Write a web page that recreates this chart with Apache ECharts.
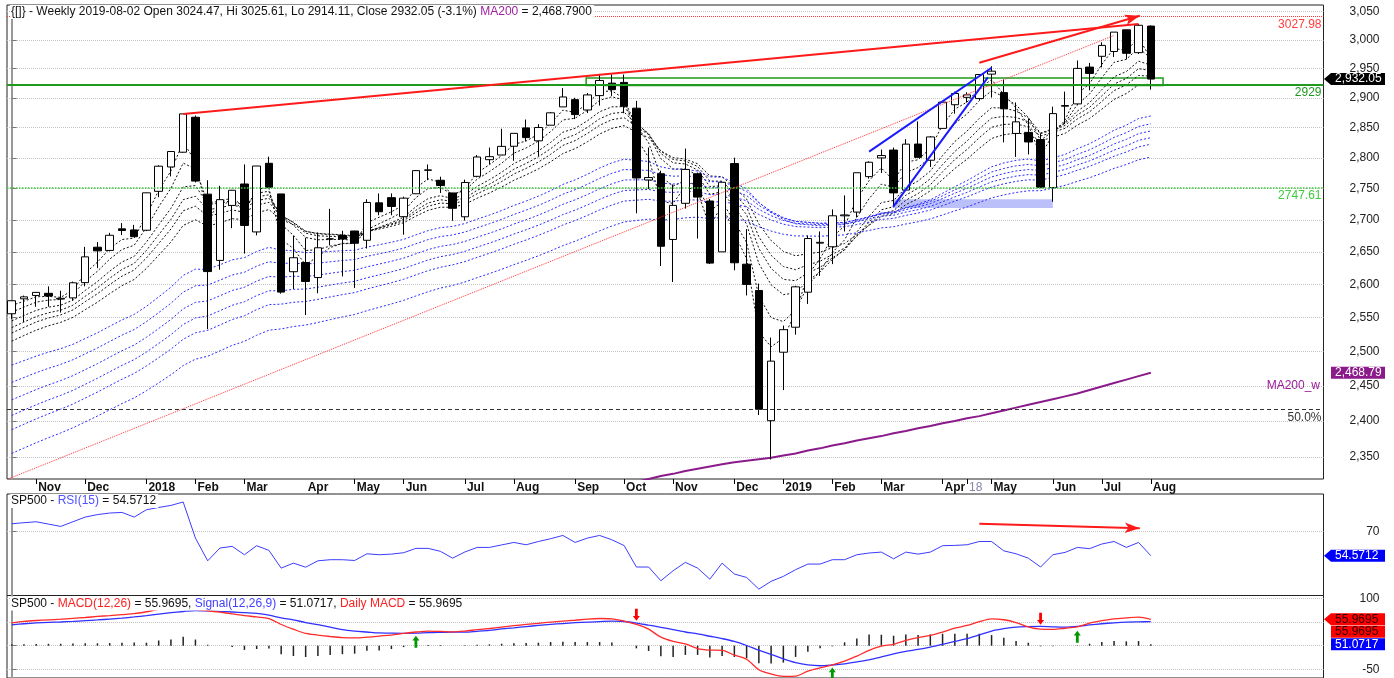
<!DOCTYPE html>
<html>
<head>
<meta charset="utf-8">
<title>SP500 weekly</title>
<script src="https://cdn.jsdelivr.net/npm/echarts@6.0.0/dist/echarts.min.js"></script>
<style>
  html, body { margin: 0; padding: 0; background: #ffffff; }
  #chart { width: 1394px; height: 678px; }
</style>
</head>
<body>
<div id="chart"></div>
<script>
// weekly bars (Friday dates)
const weeks = [
  '2017-10-20','2017-10-27','2017-11-03','2017-11-10','2017-11-17','2017-11-24','2017-12-01','2017-12-08','2017-12-15','2017-12-22','2017-12-29',
  '2018-01-05','2018-01-12','2018-01-19','2018-01-26','2018-02-02','2018-02-09','2018-02-16','2018-02-23','2018-03-02','2018-03-09','2018-03-16','2018-03-23','2018-03-29',
  '2018-04-06','2018-04-13','2018-04-20','2018-04-27','2018-05-04','2018-05-11','2018-05-18','2018-05-25','2018-06-01','2018-06-08','2018-06-15','2018-06-22','2018-06-29',
  '2018-07-06','2018-07-13','2018-07-20','2018-07-27','2018-08-03','2018-08-10','2018-08-17','2018-08-24','2018-08-31','2018-09-07','2018-09-14','2018-09-21','2018-09-28',
  '2018-10-05','2018-10-12','2018-10-19','2018-10-26','2018-11-02','2018-11-09','2018-11-16','2018-11-23','2018-11-30','2018-12-07','2018-12-14','2018-12-21','2018-12-28',
  '2019-01-04','2019-01-11','2019-01-18','2019-01-25','2019-02-01','2019-02-08','2019-02-15','2019-02-22','2019-03-01','2019-03-08','2019-03-15','2019-03-22','2019-03-29',
  '2019-04-05','2019-04-12','2019-04-18','2019-04-26','2019-05-03','2019-05-10','2019-05-17','2019-05-24','2019-05-31','2019-06-07','2019-06-14','2019-06-21','2019-06-28',
  '2019-07-05','2019-07-12','2019-07-19','2019-07-26','2019-08-02'
];
const opens = [
  2555.66, 2578.08, 2583.21, 2586.43, 2577.75, 2579.49, 2602.66, 2657.19, 2652.19, 2685.92, 2684.22,
  2683.73, 2745.55, 2784.99, 2809.16, 2867.23, 2741.06, 2636.75, 2722.99, 2757.37, 2681.06, 2790.97, 2741.38, 2619.35,
  2633.45, 2610.39, 2670.10, 2675.40, 2682.51, 2668.00, 2727.13, 2735.39, 2705.11, 2741.67, 2780.18, 2763.39, 2742.94,
  2704.95, 2769.76, 2796.93, 2804.55, 2819.00, 2849.46, 2827.95, 2853.93, 2884.69, 2896.96, 2879.44, 2903.83, 2925.08,
  2926.29, 2882.51, 2763.83, 2773.94, 2669.27, 2726.37, 2773.93, 2730.05, 2649.97, 2790.50, 2630.86, 2590.75, 2400.56,
  2498.77, 2535.61, 2588.11, 2663.51, 2657.88, 2706.49, 2712.40, 2769.28, 2799.78, 2812.67, 2747.61, 2822.61, 2796.01,
  2848.63, 2888.32, 2900.86, 2898.78, 2940.58, 2908.89, 2840.19, 2841.94, 2830.03, 2751.53, 2885.83, 2889.75, 2952.71,
  2971.41, 2979.77, 3017.80, 2977.77, 3024.47
];
const highs = [
  2575.44, 2582.98, 2588.40, 2597.02, 2590.26, 2604.21, 2657.74, 2665.19, 2679.63, 2694.97, 2692.12,
  2743.45, 2787.85, 2810.33, 2872.87, 2870.05, 2763.39, 2754.42, 2747.76, 2789.15, 2786.57, 2801.90, 2741.38, 2674.78,
  2672.08, 2680.26, 2717.49, 2682.86, 2682.87, 2732.86, 2742.10, 2742.24, 2736.93, 2779.90, 2789.06, 2769.18, 2743.15,
  2764.41, 2804.53, 2816.76, 2848.03, 2840.38, 2863.43, 2855.63, 2876.16, 2916.50, 2900.18, 2908.30, 2940.91, 2939.86,
  2939.86, 2894.83, 2816.94, 2778.94, 2756.55, 2815.15, 2775.99, 2733.16, 2760.88, 2800.18, 2685.44, 2601.13, 2520.27,
  2538.07, 2597.82, 2675.47, 2681.83, 2716.66, 2738.98, 2775.66, 2794.20, 2813.49, 2816.88, 2830.73, 2860.31, 2836.03,
  2893.42, 2910.53, 2909.51, 2939.88, 2954.13, 2931.30, 2892.15, 2864.36, 2840.51, 2884.99, 2910.61, 2964.15, 2959.88,
  2995.84, 3013.92, 3017.80, 3027.98, 3025.61
];
const lows = [
  2547.92, 2543.35, 2566.17, 2566.33, 2557.45, 2575.54, 2597.02, 2624.75, 2650.63, 2676.11, 2673.61,
  2682.36, 2736.06, 2769.64, 2808.12, 2759.97, 2532.69, 2622.45, 2687.01, 2647.32, 2675.75, 2749.97, 2585.89, 2593.06,
  2553.80, 2586.52, 2660.10, 2612.16, 2594.62, 2655.20, 2707.38, 2707.38, 2676.81, 2741.67, 2763.59, 2742.94, 2698.67,
  2698.95, 2768.11, 2789.24, 2804.55, 2795.14, 2827.23, 2802.49, 2853.93, 2884.69, 2864.12, 2874.27, 2886.97, 2903.28,
  2874.02, 2710.51, 2749.33, 2628.16, 2603.54, 2717.94, 2670.75, 2631.09, 2649.97, 2621.53, 2583.23, 2408.55, 2346.58,
  2443.96, 2524.56, 2570.41, 2612.86, 2631.05, 2681.83, 2703.79, 2766.06, 2775.13, 2722.27, 2746.17, 2800.47, 2785.02,
  2848.63, 2873.34, 2891.90, 2896.35, 2900.50, 2825.39, 2801.43, 2805.49, 2750.52, 2728.81, 2855.94, 2887.30, 2912.84,
  2952.22, 2970.26, 2966.39, 2975.50, 2914.11
];
const closes = [
  2575.21, 2581.07, 2587.84, 2582.30, 2578.85, 2602.42, 2642.22, 2651.50, 2675.81, 2683.34, 2673.61,
  2743.15, 2786.24, 2810.30, 2872.87, 2762.13, 2619.55, 2732.22, 2747.30, 2691.25, 2786.57, 2752.01, 2588.26, 2640.87,
  2604.47, 2656.30, 2670.14, 2669.91, 2663.42, 2727.72, 2712.97, 2721.33, 2734.62, 2779.03, 2779.66, 2754.88, 2718.37,
  2759.82, 2801.31, 2801.83, 2818.82, 2840.35, 2833.28, 2850.13, 2874.69, 2901.52, 2871.68, 2904.98, 2929.67, 2913.98,
  2885.57, 2767.13, 2767.78, 2658.69, 2723.06, 2781.01, 2736.27, 2632.56, 2760.17, 2633.08, 2599.95, 2416.62, 2485.74,
  2531.94, 2596.26, 2670.71, 2664.76, 2706.53, 2707.88, 2775.60, 2792.67, 2803.69, 2743.07, 2822.48, 2800.71, 2834.40,
  2892.74, 2907.41, 2905.03, 2939.88, 2945.64, 2881.40, 2859.53, 2826.06, 2752.06, 2873.34, 2886.98, 2950.46, 2941.76,
  2990.41, 3013.77, 2976.61, 3025.86, 2932.05
];

// 200 week average, starts at week 51 (below the chart before that)
const ma200Start = 51;
const ma200 = [
  2316, 2320, 2324, 2327, 2331, 2334, 2337, 2340, 2343, 2345, 2347, 2349, 2352, 2355, 2359, 2362, 2366, 2369, 2373, 2376,
  2379, 2383, 2386, 2390, 2393, 2397, 2400, 2404, 2407, 2411, 2415, 2419, 2423, 2427, 2431, 2435, 2439, 2444, 2449, 2454,
  2459, 2464, 2468.79
];

// guppy averages: periods and the value each line starts at on the first bar
const gmmaShortPeriods = [3, 5, 8, 10, 12, 15];
const gmmaShortStart = [2568, 2558, 2545, 2535, 2527, 2515];
const gmmaLongPeriods = [30, 35, 40, 45, 50, 60];
const gmmaLongStart = [2480, 2455, 2430, 2408, 2388, 2355];

const rsi = [
  75.1, 75.8, 76.4, 74.9, 73.4, 76.4, 79.4, 81.0, 82.0, 82.4, 79.4,
  84.1, 85.6, 86.9, 89.1, 65.9, 51.3, 59.5, 60.6, 55.2, 61.0, 58.0, 46.6, 49.8,
  47.2, 51.3, 52.0, 52.0, 51.5, 55.8, 55.2, 55.6, 56.5, 59.3, 59.3, 57.4, 53.0,
  57.0, 59.9, 59.9, 61.5, 63.1, 61.6, 63.7, 65.5, 67.6, 63.1, 65.9, 67.6, 64.8,
  61.1, 47.3, 47.3, 38.5, 44.9, 50.3, 46.6, 39.5, 49.8, 42.8, 40.6, 33.1, 38.1,
  41.3, 45.6, 49.2, 49.2, 52.0, 52.0, 55.2, 56.3, 56.9, 52.6, 56.9, 55.6, 56.9,
  61.0, 61.2, 61.6, 63.7, 63.7, 57.7, 55.8, 53.0, 47.3, 55.2, 56.7, 59.9, 59.1,
  62.1, 63.7, 59.9, 63.1, 54.5712
];
const macd = [
  48.5, 51.5, 53.4, 54.8, 56.2, 58.0, 59.8, 62.0, 64.0, 66.0, 68.0,
  72.0, 77.0, 79.5, 79.5, 77.0, 74.0, 71.0, 67.6, 64.0, 61.0, 57.5, 45.0, 35.0,
  26.0, 22.5, 19.5, 17.0, 16.5, 18.0, 20.4, 22.5, 26.0, 29.0, 31.0, 30.3, 29.3,
  31.0, 34.0, 36.5, 39.5, 42.5, 45.0, 47.5, 50.0, 52.0, 54.0, 56.5, 57.7, 57.0,
  52.0, 45.0, 35.0, 18.0, 9.0, 4.0, -6.0, -9.3, -10.0, -20.0, -28.8, -51.0, -60.0,
  -65.0, -64.5, -54.0, -47.0, -41.0, -33.0, -22.0, -10.0, -1.0, 2.8, 11.0, 17.0, 22.0,
  29.0, 37.0, 43.0, 51.0, 57.0, 55.0, 49.0, 40.0, 35.0, 34.5, 37.0, 40.0, 48.0,
  53.0, 57.0, 59.0, 60.5, 55.9695
];
const signal = [
  44.3, 46.5, 48.2, 49.4, 50.3, 51.5, 53.0, 54.6, 56.5, 58.5, 61.0,
  63.8, 67.0, 70.0, 72.5, 74.5, 73.7, 72.6, 71.5, 70.0, 68.5, 65.0, 59.0, 55.0,
  49.0, 44.5, 39.5, 34.0, 31.0, 29.0, 27.0, 26.5, 26.2, 26.5, 27.8, 28.4, 28.8,
  28.8, 30.5, 32.5, 35.5, 38.0, 40.5, 43.0, 45.2, 47.0, 48.8, 50.2, 51.0, 52.0,
  51.3, 48.0, 43.5, 39.0, 34.0, 29.0, 25.0, 20.0, 15.0, 9.0, 0.4, -9.6, -18.3,
  -28.0, -36.0, -40.9, -42.6, -41.0, -38.5, -34.5, -30.0, -24.0, -17.5, -12.0, -8.0, -3.0,
  3.0, 9.0, 15.0, 23.0, 31.0, 36.0, 39.5, 40.5, 40.8, 40.0, 39.5, 41.0, 44.0,
  46.5, 48.5, 50.0, 50.6, 51.0717
];
const macdHist = [
  3, 3, 3.5, 4, 4, 4.5, 5, 5, 5.5, 6, 7,
  6.3, 11, 13, 19, 13, 2, 0, -3, -9, -7, -6, -18, -22,
  -24, -22, -20, -18, -17, -11, -10, -7, -3, 0, 1.5, 1.5, 0,
  0.7, 2.1, 2.8, 4.2, 4.9, 5.6, 6.3, 7.7, 8.4, 7.7, 7.7, 7.7, 7.0,
  0, -5.6, -11.2, -22.5, -23.9, -19.7, -19.7, -25.3, -21.8, -23.9, -26.7, -37.3, -38,
  -35.9, -23.9, -12.7, -5.6, -1.4, 7, 15.5, 23.9, 23.2, 21.1, 23.9, 22.5, 23.9,
  25.3, 25.3, 25.3, 25.3, 22.5, 16.9, 9.8, 6.3, -1.4, -1.4, 0, 0.7, 4.2,
  7.7, 9.8, 9.1, 9.8, 2.8
];

// axis labels
const monthTickIdx = [2, 6, 11, 15, 19, 24, 28, 32, 37, 41, 46, 50, 54, 59, 63, 67, 71, 76, 78, 80, 85, 89, 93];
const monthTickText = ['Nov', 'Dec', '2018', 'Feb', 'Mar', 'Apr', 'May', 'Jun', 'Jul', 'Aug', 'Sep', 'Oct', 'Nov',
  'Dec', '2019', 'Feb', 'Mar', 'Apr', '18', 'May', 'Jun', 'Jul', 'Aug'];
const priceTicks = [2350, 2400, 2450, 2500, 2550, 2600, 2650, 2700, 2750, 2800, 2850, 2900, 2950, 3000, 3050];
const rsiTicks = [70];
const macdTicks = [100, 50, 0, -50];
const macdLabels = [100, -50];

// price levels and drawn lines [week, price]
const levelHigh = 3027.98;
const levelSupport = 2929;
const levelGap = 2747.61;
const levelHalf = 2418.6;
const redTrend = [[14, 2872.87], [92, 3027.98]];
const redArrow = [[79, 2960.2], [92.1, 3042.9]];
const redDotted = [[-0.3, 2320], [90, 3008]];
const blueUpper = [[70, 2810], [80, 2951.6]];
const blueLower = [[71.96, 2720.7], [79.7, 2935]];
const greenBox = [[46.9, 2934], [94, 2921]];
const blueBox = [[71.96, 2733], [85, 2719]];
const rsiArrow = [[79, 75.1], [92.1, 72.3]];
const macdDown = [[51, 52.7], [84, 44.3]];
const macdUp = [[33, 21.1], [67, -46.4], [87, 31.6]];

const FONT = '"Liberation Sans", Arial, sans-serif';
const X_MIN = -0.384, X_MAX = 107.1;
const lg = v => Math.log(v);

const ema = (period, start) => {
  const k = 2 / (period + 1);
  let prev = start;
  return closes.map((c, i) => {
    prev = i === 0 ? start : prev + k * (c - prev);
    return [i, lg(prev)];
  });
};

const gmma = (periods, starts, color) => periods.map((p, n) => ({
  type: 'line', name: 'EMA' + p, xAxisIndex: 0, yAxisIndex: 0,
  data: ema(p, starts[n]), symbol: 'none', silent: true, z: 2,
  lineStyle: { color: color, width: 1, type: [2, 2] }
}));

const candleData = weeks.map((w, i) => [i, lg(opens[i]), lg(closes[i]), lg(lows[i]), lg(highs[i])]);

const hLine = (value, color, type, width, text) => ({
  yAxis: lg(value),
  lineStyle: { color: color, type: type, width: width },
  label: { show: !!text, formatter: text, position: 'insideEndBottom', color: color, fontSize: 12, fontFamily: FONT, distance: 2 }
});
const segLine = (pts, color, type, width, arrow) => [
  { coord: [pts[0][0], lg(pts[0][1])], symbol: 'none', lineStyle: { color: color, type: type, width: width } },
  { coord: [pts[1][0], lg(pts[1][1])], symbol: arrow ? 'arrow' : 'none', symbolSize: [8, 15] }
];

const xAxisFor = (gridIndex, labels) => ({
  type: 'value', gridIndex: gridIndex, min: X_MIN, max: X_MAX,
  splitLine: { show: false },
  axisLine: { show: false },
  axisTick: labels
    ? { show: true, customValues: monthTickIdx.filter(i => i !== 24), length: 5, lineStyle: { color: '#000' } }
    : { show: false },
  axisLabel: labels ? {
    show: true, customValues: monthTickIdx, align: 'left', margin: 3, padding: [0, 0, 0, 2],
    fontWeight: 'bold', fontSize: 12, fontFamily: FONT, color: '#111',
    formatter: v => {
      const t = monthTickText[monthTickIdx.indexOf(Math.round(v))];
      return t === '18' ? '{d|18}' : t;
    },
    rich: { d: { color: '#8484ac', fontWeight: 'normal', fontSize: 12, fontFamily: FONT } }
  } : { show: false }
});

const yAxisFor = (gridIndex, min, max, ticks, labels, fmt) => ({
  type: 'value', gridIndex: gridIndex, position: 'right', min: min, max: max,
  axisLine: { show: true, lineStyle: { color: '#999', width: 2 } },
  axisTick: { show: true, customValues: ticks, length: 5, lineStyle: { color: '#777' } },
  axisLabel: {
    customValues: labels, formatter: fmt, align: 'right', margin: 56,
    color: '#222', fontSize: 12, fontFamily: FONT
  },
  splitLine: { show: true, lineStyle: { color: '#c4c4c4', type: 'dotted', width: 1 } }
});

const chart = echarts.init(document.getElementById('chart'));

const option = {
  animation: false,
  backgroundColor: '#fff',
  textStyle: { fontFamily: FONT },
  grid: [
    { left: 7, right: 70.5, top: 5, height: 474, show: true, borderColor: '#222', borderWidth: 1 },
    { left: 7, right: 70.5, top: 494, height: 101.5, show: true, borderColor: '#222', borderWidth: 1 },
    { left: 7, right: 70.5, top: 595.5, height: 83, show: true, borderColor: '#222', borderWidth: 1 }
  ],
  xAxis: [xAxisFor(0, true), xAxisFor(1, false), xAxisFor(2, false)],
  yAxis: [
    yAxisFor(0, lg(2320), lg(3062), priceTicks.map(lg), priceTicks.map(lg),
      v => Math.round(Math.exp(v)).toLocaleString('en-US')),
    yAxisFor(1, 29.0, 94.24, rsiTicks, rsiTicks, v => String(Math.round(v))),
    yAxisFor(2, -68.6, 106.5, macdTicks, macdLabels, v => String(Math.round(v)))
  ],
  series: [
    ...gmma(gmmaShortPeriods, gmmaShortStart, '#111'),
    ...gmma(gmmaLongPeriods, gmmaLongStart, '#2b2bff'),
    {
      type: 'line', name: 'MA200_w', xAxisIndex: 0, yAxisIndex: 0, symbol: 'none', silent: true, z: 3,
      data: ma200.map((v, k) => [ma200Start + k, lg(v)]),
      lineStyle: { color: '#8b1a8b', width: 2 }
    },
    {
      type: 'candlestick', name: 'SP500', xAxisIndex: 0, yAxisIndex: 0, z: 4,
      data: candleData, encode: { x: 0, y: [1, 2, 3, 4] }, barWidth: 8,
      itemStyle: { color: '#fff', color0: '#000', borderColor: '#000', borderColor0: '#000', borderWidth: 1 },
      markLine: {
        silent: true, symbol: ['none', 'none'], animation: false,
        data: [
          hLine(levelHigh, '#ff3b3b', 'dotted', 1, '3027.98'),
          hLine(levelSupport, '#1f9a1f', 'solid', 2, '2929'),
          hLine(levelGap, '#3ccc3c', 'dotted', 1.5, '2747.61'),
          hLine(levelHalf, '#333', [4, 3], 1, '50.0%'),
          segLine(redDotted, '#ff3030', 'dotted', 1, false),
          segLine(redTrend, '#ff1a1a', 'solid', 2, false),
          segLine(redArrow, '#ff1a1a', 'solid', 2, true),
          segLine(blueUpper, '#1a1aff', 'solid', 2, false),
          segLine(blueLower, '#1a1aff', 'solid', 2, false)
        ]
      },
      markArea: {
        silent: true,
        data: [
          [
            { coord: [greenBox[0][0], lg(greenBox[0][1])], itemStyle: { color: 'rgba(0,0,0,0)', borderColor: '#1f9a1f', borderWidth: 1.5 } },
            { coord: [greenBox[1][0], lg(greenBox[1][1])] }
          ],
          [
            { coord: [blueBox[0][0], lg(blueBox[0][1])], itemStyle: { color: 'rgba(105,115,245,0.45)' } },
            { coord: [blueBox[1][0], lg(blueBox[1][1])] }
          ]
        ]
      }
    },
    {
      type: 'line', name: 'RSI(15)', xAxisIndex: 1, yAxisIndex: 1, symbol: 'none', silent: true,
      data: rsi.map((v, i) => [i, v]),
      lineStyle: { color: '#3c3cff', width: 1 },
      markLine: {
        silent: true, symbol: ['none', 'none'],
        data: [[
          { coord: rsiArrow[0], symbol: 'none', lineStyle: { color: '#ff1a1a', type: 'solid', width: 2 } },
          { coord: rsiArrow[1], symbol: 'arrow', symbolSize: [8, 15] }
        ]],
        label: { show: false }
      }
    },
    {
      type: 'bar', name: 'hist', xAxisIndex: 2, yAxisIndex: 2, barWidth: 1.5, silent: true,
      data: macdHist.map((v, i) => [i, v]),
      itemStyle: { color: '#222' }
    },
    {
      type: 'line', name: 'Signal(12,26,9)', xAxisIndex: 2, yAxisIndex: 2, symbol: 'none', silent: true, smooth: 0.3,
      data: signal.map((v, i) => [i, v]),
      lineStyle: { color: '#3030ff', width: 1.3 }
    },
    {
      type: 'line', name: 'MACD(12,26)', xAxisIndex: 2, yAxisIndex: 2, symbol: 'none', silent: true, smooth: 0.3,
      data: macd.map((v, i) => [i, v]),
      lineStyle: { color: '#ff2a2a', width: 1.3 },
      markPoint: {
        silent: true, label: { show: false },
        data: [
          ...macdDown.map(p => ({
            coord: p, symbol: 'path://M3,0 L7,0 L7,9 L10,9 L5,15 L0,9 L3,9 Z',
            symbolSize: [7, 12], symbolOffset: [0, -6], itemStyle: { color: '#ff0000' }
          })),
          ...macdUp.map(p => ({
            coord: p, symbol: 'path://M5,0 L10,6 L7,6 L7,15 L3,15 L3,6 L0,6 Z',
            symbolSize: [7, 12], symbolOffset: [0, 6], itemStyle: { color: '#009900' }
          }))
        ]
      }
    }
  ]
};

chart.setOption(option);

// value tags on the right axis and the panel titles
const py = (axis, v) => chart.convertToPixel({ yAxisIndex: axis }, v);
const tag = (y, text, bg, fg, arrow) => {
  const h = 12, x0 = 1324, x1 = 1385;
  const pts = arrow
    ? [[x0, y], [x0 + 7, y - h / 2], [x1, y - h / 2], [x1, y + h / 2], [x0 + 7, y + h / 2]]
    : [[x0 + 7, y - h / 2], [x1, y - h / 2], [x1, y + h / 2], [x0 + 7, y + h / 2]];
  return [
    { type: 'polygon', shape: { points: pts }, style: { fill: bg }, z: 100 },
    { type: 'text', x: 1335, y: y, z: 101,
      style: { text: text, fill: fg, font: '12px ' + FONT, verticalAlign: 'middle' } }
  ];
};
const title = (y, text, rich) => ({
  type: 'text', x: 10, y: y, z: 90,
  style: {
    text: text, fill: '#111', font: '12px ' + FONT, verticalAlign: 'middle',
    backgroundColor: '#fff', padding: [1, 2, 1, 1], rich: rich
  }
});

const macdY = py(2, macd[macd.length - 1]);
const ma200End = py(0, lg(ma200[ma200.length - 1]));
chart.setOption({
  graphic: [
    title(12, '{[]} - Weekly 2019-08-02 Open 3024.47, Hi 3025.61, Lo 2914.11, Close 2932.05 (-3.1%) {p|MA200} = 2,468.7900',
      { p: { fill: '#a020a0', font: '12px ' + FONT } }),
    title(501, 'SP500 - {b|RSI(15)} = 54.5712', { b: { fill: '#5050ff', font: '12px ' + FONT } }),
    title(603.5, 'SP500 - {r|MACD(12,26)} = 55.9695, {b|Signal(12,26,9)} = 51.0717, {r|Daily MACD} = 55.9695', {
      r: { fill: '#ff2020', font: '12px ' + FONT },
      b: { fill: '#4040ff', font: '12px ' + FONT }
    }),
    { type: 'text', x: 1320, y: ma200End + 13, z: 90,
      style: { text: 'MA200_w', fill: '#9b1a9b', font: '12px ' + FONT, align: 'right', verticalAlign: 'middle' } },
    ...tag(py(0, lg(closes[closes.length - 1])), '2,932.05', '#000', '#fff', true),
    ...tag(ma200End, '2,468.79', '#8b1a8b', '#fff', false),
    ...tag(py(1, rsi[rsi.length - 1]), '54.5712', '#0000ff', '#fff', true),
    ...tag(macdY, '55.9695', '#ff0000', '#300000', true),
    ...tag(macdY + 12.5, '55.9695', '#ff0000', '#300000', false),
    ...tag(macdY + 25, '51.0717', '#0000ff', '#fff', false)
  ]
});

window.addEventListener('resize', () => {
  chart.resize();
});
</script>
</body>
</html>
